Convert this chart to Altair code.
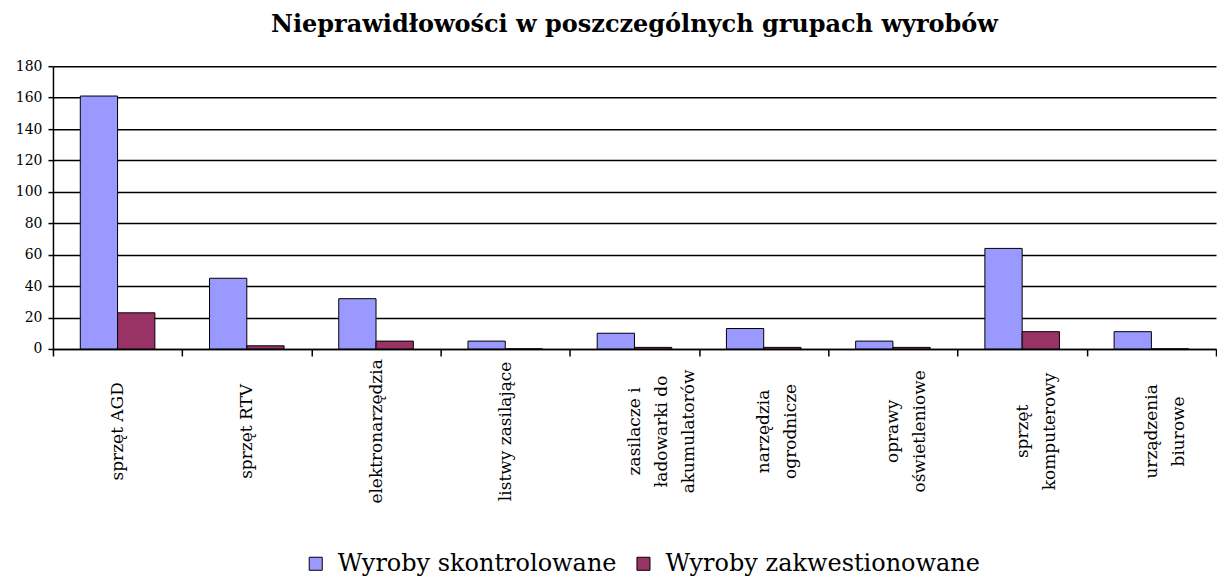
import altair as alt
import pandas as pd

categories = [
    "sprzęt AGD",
    "sprzęt RTV",
    "elektronarzędzia",
    "listwy zasilające",
    "zasilacze i|ładowarki do|akumulatorów",
    "narzędzia|ogrodnicze",
    "oprawy|oświetleniowe",
    "sprzęt|komputerowy",
    "urządzenia|biurowe",
]
skontrolowane = [161, 45, 32, 5, 10, 13, 5, 64, 11]
zakwestionowane = [23, 2, 5, 0, 1, 1, 1, 11, 0]
series = ["Wyroby skontrolowane", "Wyroby zakwestionowane"]
colors = ["#9999FF", "#993366"]
y_ticks = [0, 20, 40, 60, 80, 100, 120, 140, 160, 180]

rows = []
for c, a, b in zip(categories, skontrolowane, zakwestionowane):
    rows.append({"kat": c, "seria": series[0], "wartosc": a})
    rows.append({"kat": c, "seria": series[1], "wartosc": b})
df = pd.DataFrame(rows)

font = "DejaVu Serif"

chart = (
    alt.Chart(df)
    .mark_bar(stroke="black", strokeWidth=1)
    .encode(
        x=alt.X(
            "kat:N",
            sort=categories,
            scale=alt.Scale(paddingInner=0, paddingOuter=0),
            axis=alt.Axis(
                title=None,
                labelAngle=270,
                labelAlign="center",
                labelBaseline="middle",
                labelExpr="split(datum.label, '|')",
                labelFont=font,
                labelFontSize=17,
                labelLineHeight=27,
                labelPadding=75,
                labelColor="black",
                labelLimit=0,
                tickBand="extent",
                tickSize=7,
                tickColor="black",
                tickWidth=1.5,
                domainColor="black",
                domainWidth=1.5,
                grid=False,
            ),
        ),
        xOffset=alt.XOffset(
            "seria:N",
            sort=series,
            scale=alt.Scale(paddingInner=0, paddingOuter=0.733),
        ),
        y=alt.Y(
            "wartosc:Q",
            scale=alt.Scale(domain=[0, 180], nice=False),
            axis=alt.Axis(
                title=None,
                values=y_ticks,
                grid=True,
                gridColor="black",
                gridOpacity=1,
                gridWidth=1.5,
                labelFont=font,
                labelFontSize=14,
                labelColor="black",
                labelPadding=6,
                tickSize=5,
                tickColor="black",
                tickWidth=1.5,
                domainColor="black",
                domainWidth=1.5,
            ),
        ),
        color=alt.Color(
            "seria:N",
            sort=series,
            scale=alt.Scale(domain=series, range=colors),
            legend=alt.Legend(
                title=None,
                orient="none",
                legendX=251,
                legendY=486,
                direction="horizontal",
                symbolType="square",
                symbolSize=170,
                symbolStrokeColor="black",
                symbolStrokeWidth=1,
                symbolOpacity=1,
                labelFont=font,
                labelFontSize=24,
                labelColor="black",
                labelLimit=0,
                labelOffset=10,
                columnPadding=14,
            ),
        ),
    )
    .properties(
        width=1164,
        height=283,
        padding={"left": 7, "top": 5, "right": 0, "bottom": 0},
        title=alt.TitleParams(
            "Nieprawidłowości w poszczególnych grupach wyrobów",
            font=font,
            fontSize=24,
            fontWeight="bold",
            color="black",
            anchor="middle",
            offset=22,
        ),
    )
    .configure_view(stroke=None)
)

chart.save("out.html", embed_options={"renderer": "svg", "actions": False})
